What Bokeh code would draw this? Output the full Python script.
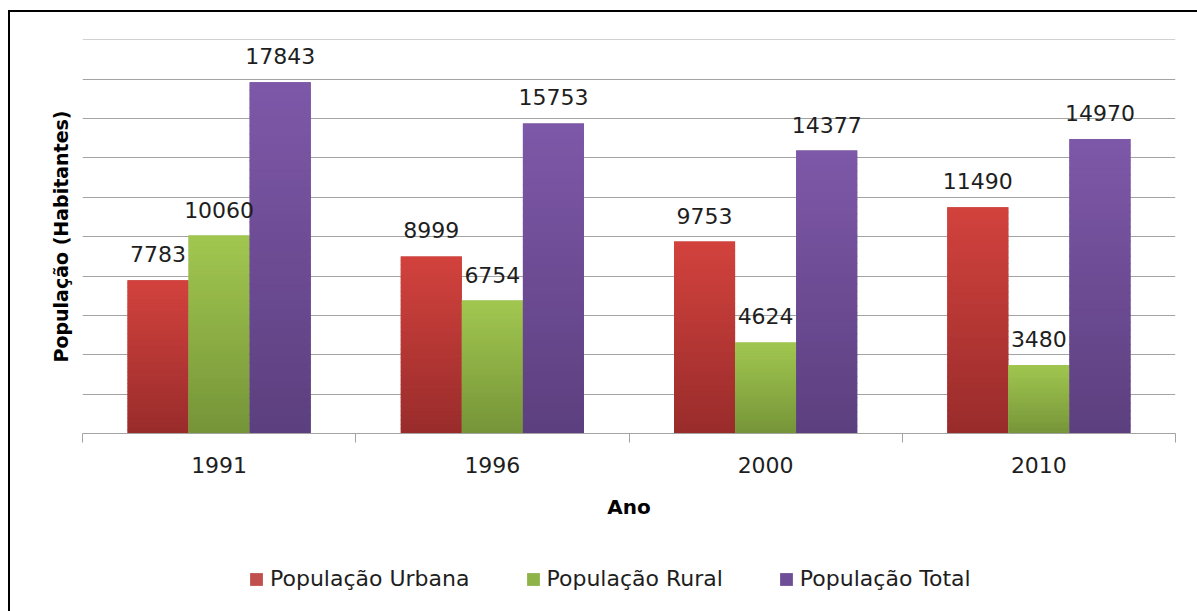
import numpy as np
from bokeh.plotting import figure
from bokeh.layouts import column
from bokeh.models import (ColumnDataSource, Range1d, FixedTicker, SingleIntervalTicker,
                          Legend, LegendItem, LabelSet)
from bokeh.core.properties import value
from bokeh.embed import file_html
from bokeh.resources import INLINE

# ---- data ----
years = ["1991", "1996", "2000", "2010"]
urbana = [7783, 8999, 9753, 11490]
rural = [10060, 6754, 4624, 3480]
total = [17843, 15753, 14377, 14970]
series_names = ["População Urbana", "População Rural", "População Total"]

series_values = [urbana, rural, total]
top_colors = [(211, 66, 61), (162, 199, 80), (126, 88, 169)]
bot_colors = [(152, 44, 43), (117, 148, 56), (92, 63, 126)]
mid_colors = ["#C0504D", "#8DB349", "#6E4F97"]

BAR_W = 0.2235
offsets = [-BAR_W, 0.0, BAR_W]
FONT = "DejaVu Sans"

W = 1187
H1 = 520
H2 = 79

p = figure(width=W, height=H1, output_backend="svg", toolbar_location=None,
           x_range=Range1d(0, 4), y_range=Range1d(0, 20020),
           min_border_left=72, min_border_right=22, min_border_top=27, min_border_bottom=99)
p.outline_line_color = None
p.background_fill_color = "white"
p.border_fill_color = "white"

def hexc(c):
    return "#%02x%02x%02x" % tuple(int(round(v)) for v in c)

N = 40
for s, vals in enumerate(series_values):
    xs = [i + 0.5 + offsets[s] for i in range(len(years))]
    base = ColumnDataSource(dict(x=xs, top=vals))
    p.vbar(x="x", top="top", bottom=0, width=BAR_W, source=base,
           fill_color=mid_colors[s], line_color=None)
    # gradient slices
    gx, gb, gt, gc = [], [], [], []
    for i, v in enumerate(vals):
        for k in range(N):
            f = (k + 0.5) / N
            col = tuple(bot_colors[s][j] + (top_colors[s][j] - bot_colors[s][j]) * f for j in range(3))
            gx.append(xs[i]); gb.append(v * k / N)
            gt.append(min(v, v * (k + 1) / N + v * 0.004))
            gc.append(hexc(col))
    gsrc = ColumnDataSource(dict(x=gx, bottom=gb, top=gt, c=gc))
    p.vbar(x="x", top="top", bottom="bottom", width=BAR_W, source=gsrc,
           fill_color="c", line_color=None)
    lsrc = ColumnDataSource(dict(x=xs, y=vals, t=[str(v) for v in vals]))
    p.add_layout(LabelSet(x="x", y="y", text="t", source=lsrc, y_offset=18,
                          text_align="center", text_baseline="alphabetic",
                          text_font=value(FONT), text_font_size="22px", text_color="#1e1e1e"))

# grid
p.xgrid.visible = False
p.ygrid.ticker = SingleIntervalTicker(interval=2000)
p.ygrid.grid_line_color = "#a3a3a3"
p.ygrid.grid_line_width = 1

# y axis: title only
yax = p.yaxis[0]
yax.ticker = FixedTicker(ticks=[])
yax.axis_line_color = None
yax.major_tick_line_color = None
yax.minor_tick_line_color = None
yax.major_label_standoff = 0
yax.axis_label = "População (Habitantes)"
yax.axis_label_text_font = FONT
yax.axis_label_text_font_size = "19px"
yax.axis_label_text_font_style = "bold"
yax.axis_label_text_color = "black"
yax.axis_label_standoff = 11

# x axis
xax = p.xaxis[0]
xax.ticker = FixedTicker(ticks=[i + 0.5 for i in range(len(years))],
                         minor_ticks=list(range(len(years) + 1)))
xax.major_label_overrides = {i + 0.5: y for i, y in enumerate(years)}
xax.axis_line_color = "#a3a3a3"
xax.major_tick_line_color = None
xax.major_tick_out = 0
xax.major_tick_in = 0
xax.minor_tick_line_color = "#a3a3a3"
xax.minor_tick_out = 9
xax.minor_tick_in = 0
xax.major_label_standoff = 14
xax.major_label_text_font = FONT
xax.major_label_text_font_size = "22px"
xax.major_label_text_color = "#1e1e1e"
xax.axis_label = "Ano"
xax.axis_label_text_font = FONT
xax.axis_label_text_font_size = "20px"
xax.axis_label_text_font_style = "bold"
xax.axis_label_text_color = "black"
xax.axis_label_standoff = 19

# legend figure (below main plot); its frame is aligned with the main frame
pl = figure(width=W, height=H2, output_backend="svg", toolbar_location=None,
            x_range=Range1d(0, 1), y_range=Range1d(0, 1),
            min_border_left=0, min_border_right=0, min_border_top=0, min_border_bottom=0)
pl.axis.visible = False
pl.grid.visible = False
pl.outline_line_color = None
pl.border_fill_color = "white"
legend_items = []
for s, name in enumerate(series_names):
    # zero-size proxy renderer, only used to draw the legend swatch
    r = pl.vbar(x=[0], top=[0], bottom=[0], width=0, fill_color=mid_colors[s], line_color=None)
    legend_items.append(LegendItem(label=name, renderers=[r]))
legend = Legend(items=legend_items, orientation="horizontal", location=(166, 20),
                spacing=55, label_standoff=6, glyph_width=16, glyph_height=16,
                label_text_font=FONT, label_text_font_size="22px", label_text_color="#1e1e1e",
                border_line_color=None, background_fill_alpha=0, padding=0, margin=0)
pl.add_layout(legend, "center")

layout = column(p, pl, spacing=0)
layout.styles = {"border-top": "2px solid black", "border-left": "2px solid black",
                 "margin-left": "8px", "margin-top": "10px"}

open("out.html", "w").write(file_html(layout, INLINE))
